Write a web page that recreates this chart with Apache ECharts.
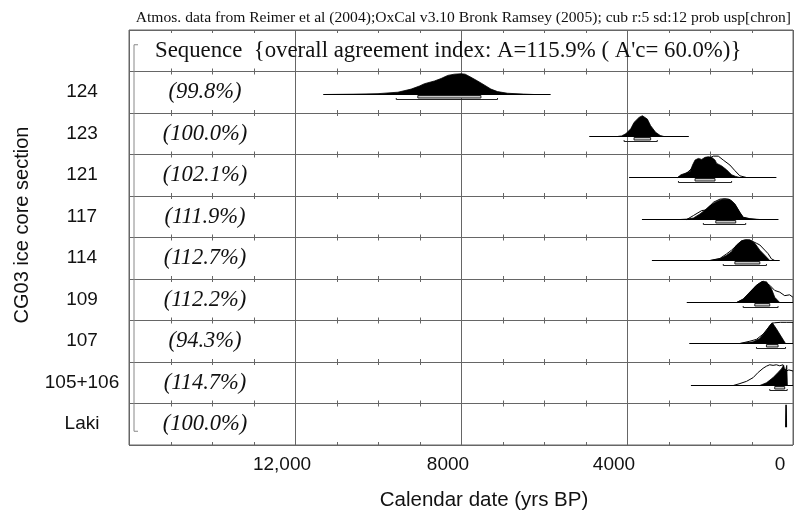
<!DOCTYPE html>
<html><head><meta charset="utf-8">
<script src="https://cdn.jsdelivr.net/npm/echarts@6/dist/echarts.min.js"></script>
<style>html,body{margin:0;padding:0;background:#fff}#c{width:796px;height:516px}</style>
</head><body><div id="c"></div>
<script>
// ---------- data ----------
const subtitle = 'Atmos. data from Reimer et al (2004);OxCal v3.10 Bronk Ramsey (2005); cub r:5 sd:12 prob usp[chron]';
const headerText = "Sequence  {overall agreement index: A=115.9% ( A'c= 60.0%)}";
const rowNames = ['Sequence', '124', '123', '121', '117', '114', '109', '107', '105+106', 'Laki'];
const agreement = ['', '(99.8%)', '(100.0%)', '(102.1%)', '(111.9%)', '(112.7%)', '(112.2%)', '(94.3%)', '(114.7%)', '(100.0%)'];
const xTickValues = [12000, 8000, 4000, 0];
const minorTickYears = [1000, 2000, 3000, 5000, 6000, 7000, 9000, 10000, 11000, 13000, 14000, 15000];

// row 124
const yrs124 = [11300, 10600, 10000, 9520, 9200, 9000, 8880, 8640, 8480, 8320, 8160, 8000, 7900, 7760, 7600, 7440, 7280, 7120, 6880, 6500, 6240];
const post124 = [0, 0.015, 0.04, 0.11, 0.26, 0.41, 0.52, 0.65, 0.77, 0.92, 0.98, 1.0, 0.98, 0.83, 0.65, 0.46, 0.26, 0.14, 0.06, 0.02, 0];
const line124 = [11320, 5840], sig1_124 = [9040, 7520], sig2_124 = [9560, 7120];
// row 123
const yrs123 = [4230, 4130, 4030, 3910, 3830, 3710, 3630, 3510, 3430, 3310, 3200, 3110];
const post123 = [0, 0.03, 0.13, 0.37, 0.68, 0.92, 1.0, 0.84, 0.52, 0.2, 0.05, 0];
const line123 = [4910, 2510], sig1_123 = [3830, 3430], sig2_123 = [4070, 3270];
// row 121
const yrs121 = [2780, 2700, 2600, 2480, 2420, 2360, 2280, 2200, 2120, 2040, 1960, 1880, 1840, 1720, 1600, 1480, 1380, 1280];
const post121 = [0, 0.13, 0.2, 0.29, 0.6, 0.84, 0.92, 0.87, 0.97, 1.0, 0.97, 0.84, 0.68, 0.56, 0.37, 0.13, 0.05, 0];
const pyrs121 = [2780, 2600, 2400, 2200, 2040, 1920, 1800, 1680, 1520, 1400, 1280, 1120];
const prior121 = [0, 0.15, 0.5, 0.8, 0.9, 1.03, 1.03, 0.84, 0.6, 0.33, 0.08, 0];
const line121 = [3950, 400], sig1_121 = [2360, 1880], sig2_121 = [2760, 1480];
// row 117
const yrs117 = [2720, 2560, 2400, 2240, 2120, 2000, 1880, 1800, 1680, 1560, 1480, 1400, 1280, 1200, 1040, 800];
const post117 = [0, 0.02, 0.07, 0.27, 0.46, 0.67, 0.82, 0.9, 0.98, 0.98, 0.9, 0.75, 0.35, 0.11, 0.04, 0];
const pyrs117 = [2560, 2400, 2200, 2080, 1920, 1760, 1640, 1520, 1400, 1280, 1200, 1040, 880];
const prior117 = [0, 0.19, 0.43, 0.46, 0.83, 0.98, 1.0, 0.96, 0.73, 0.33, 0.1, 0.03, 0];
const line117 = [3640, 350], sig1_117 = [1860, 1380], sig2_117 = [2160, 1140];
// row 114
const yrs114 = [2000, 1760, 1600, 1480, 1360, 1240, 1160, 1040, 920, 800, 680, 560];
const post114 = [0, 0.08, 0.25, 0.42, 0.75, 0.95, 1.0, 1.0, 0.83, 0.5, 0.25, 0];
const pyrs114 = [2000, 1760, 1600, 1480, 1360, 1240, 1120, 1000, 880, 800, 680, 600, 520, 440];
const prior114 = [0, 0.1, 0.32, 0.5, 0.72, 0.93, 0.98, 0.95, 0.83, 0.75, 0.5, 0.33, 0.08, 0];
const line114 = [3400, 320], sig1_114 = [1400, 800], sig2_114 = [1680, 640];
// row 109
const yrs109 = [1360, 1200, 1080, 960, 880, 760, 640, 520, 440, 320];
const post109 = [0, 0.17, 0.42, 0.67, 0.83, 1.0, 1.0, 0.67, 0.25, 0];
const pyrs109 = [1360, 1200, 1080, 960, 880, 720, 560, 440, 320, 200, 80, 0];
const prior109 = [0, 0.15, 0.4, 0.65, 0.83, 1.03, 0.83, 0.58, 0.5, 0.33, 0.37, 0.25];
const line109 = [2560, 120], sig1_109 = [920, 560], sig2_109 = [1200, 360];
// row 107
const yrs107 = [1280, 960, 800, 640, 560, 500, 400, 280, 180];
const post107 = [0, 0.08, 0.24, 0.63, 0.87, 1.0, 0.71, 0.32, 0];
const pyrs107 = [1280, 1040, 880, 720, 600, 500, 440, 300, 150, 0];
const prior107 = [0, 0.11, 0.2, 0.45, 0.75, 0.98, 1.0, 1.02, 1.02, 1.02];
const line107 = [2500, 160], sig1_107 = [640, 360], sig2_107 = [880, 180];
// row 105+106
const yrs105 = [800, 640, 480, 360, 280, 224, 200, 170, 150, 136];
const post105 = [0, 0.13, 0.38, 0.63, 0.8, 0.97, 0.72, 0.8, 0.97, 0];
const pyrs105 = [1440, 1300, 1120, 960, 840, 720, 640, 560, 480, 400, 320, 240, 220, 160, 100, 0];
const prior105 = [0, 0.08, 0.2, 0.38, 0.63, 0.83, 0.93, 1.0, 0.97, 1.0, 0.95, 1.0, 0.8, 0.7, 0.75, 0.7];
const line105 = [2460, 130], sig1_105 = [440, 200], sig2_105 = [560, 140];
// Laki
const yrsLaki = [172, 167, 162];
const postLaki = [0, 1.05, 0];

const dists = [
  {row: 1, py: yrs124, pv: post124, line: line124, r1: sig1_124, r2: sig2_124},
  {row: 2, py: yrs123, pv: post123, line: line123, r1: sig1_123, r2: sig2_123},
  {row: 3, py: yrs121, pv: post121, qy: pyrs121, qv: prior121, line: line121, r1: sig1_121, r2: sig2_121},
  {row: 4, py: yrs117, pv: post117, qy: pyrs117, qv: prior117, line: line117, r1: sig1_117, r2: sig2_117},
  {row: 5, py: yrs114, pv: post114, qy: pyrs114, qv: prior114, line: line114, r1: sig1_114, r2: sig2_114},
  {row: 6, py: yrs109, pv: post109, qy: pyrs109, qv: prior109, line: line109, r1: sig1_109, r2: sig2_109},
  {row: 7, py: yrs107, pv: post107, qy: pyrs107, qv: prior107, line: line107, r1: sig1_107, r2: sig2_107},
  {row: 8, py: yrs105, pv: post105, qy: pyrs105, qv: prior105, line: line105, r1: sig1_105, r2: sig2_105},
  {row: 9, py: yrsLaki, pv: postLaki}
];

// ---------- chart ----------
const GRID = '#666';
const chart = echarts.init(document.getElementById('c'), null, {renderer: 'canvas'});

function renderDist(params, api) {
  const d = dists[params.dataIndex];
  const row = api.value(1);
  const bandH = api.size([0, 1])[1];
  const yc = api.coord([0, row])[1];
  const base = Math.round(yc - bandH / 2 + bandH * 0.545) + 0.5;
  const H = bandH * 0.5;
  const X = y => api.coord([y, row])[0];
  const poly = (ys, vs) => {
    const pts = [[X(ys[0]), base]];
    ys.forEach((y, i) => pts.push([X(y), base - vs[i] * H]));
    pts.push([X(ys[ys.length - 1]), base]);
    return pts;
  };
  const ch = [];
  if (d.line) ch.push({type: 'line', shape: {x1: X(d.line[0]), y1: base, x2: X(d.line[1]), y2: base}, style: {stroke: '#000', lineWidth: 1}});
  if (d.qy) ch.push({type: 'polygon', shape: {points: poly(d.qy, d.qv)}, style: {fill: '#fff', stroke: '#000', lineWidth: 1}});
  ch.push({type: 'polygon', shape: {points: poly(d.py, d.pv)}, style: {fill: '#000', stroke: '#000', lineWidth: d.line ? 0.8 : 1.6}});
  if (d.r1) {
    ch.push({type: 'rect', shape: {x: X(d.r1[0]), y: base + 1, width: X(d.r1[1]) - X(d.r1[0]), height: 2.5}, style: {fill: '#c8c8c8', stroke: '#222', lineWidth: 1}});
  }
  if (d.r2) {
    const yy = base + 5;
    ch.push({type: 'polyline', shape: {points: [[X(d.r2[0]), yy - 1.5], [X(d.r2[0]), yy], [X(d.r2[1]), yy], [X(d.r2[1]), yy - 1.5]]}, style: {stroke: '#222', lineWidth: 1, fill: null}});
  }
  return {type: 'group', children: ch};
}

function renderText(params, api) {
  const row = api.value(1);
  const cs = params.coordSys;
  const yc = api.coord([0, row])[1];
  const ch = [];
  if (row === 0) {
    ch.push({type: 'text', x: cs.x + 26, y: yc, style: {text: headerText, fontFamily: 'Liberation Serif', fontSize: 22.8, fill: '#111', align: 'left', verticalAlign: 'middle'}});
    // sequence bracket
    const yBot = api.coord([0, rowNames.length - 1])[1] + 7;
    ch.push({type: 'polyline', shape: {points: [[cs.x + 9, yc - 6], [cs.x + 5, yc - 6], [cs.x + 5, yBot], [cs.x + 9, yBot]]}, style: {stroke: '#888', lineWidth: 1, fill: null}});
  } else {
    ch.push({type: 'text', x: cs.x + 76, y: yc, style: {text: agreement[row], fontFamily: 'Liberation Serif', fontStyle: 'italic', fontSize: 22.5, fill: '#111', align: 'center', verticalAlign: 'middle'}});
  }
  return {type: 'group', children: ch};
}

function renderTicks(params, api) {
  const cs = params.coordSys;
  const x = Math.round(api.coord([api.value(0), 0])[0]) + 0.5;
  const bandH = api.size([0, 1])[1];
  const ch = [];
  for (let b = 0; b <= rowNames.length; b++) {
    const y = cs.y + b * bandH;
    const y1 = b === 0 ? y : y - 3;
    const y2 = b === rowNames.length ? y : y + 3;
    ch.push({type: 'line', shape: {x1: x, y1: y1, x2: x, y2: y2}, style: {stroke: GRID, lineWidth: 1}});
  }
  return {type: 'group', children: ch};
}

chart.setOption({
  animation: false,
  backgroundColor: '#fff',
  title: {text: subtitle, right: 0, top: 5, textStyle: {fontFamily: 'Liberation Serif', fontSize: 15.6, fontWeight: 'normal', color: '#111'}},
  grid: {left: 129, right: 3, top: 30, bottom: 70, show: true, borderColor: GRID, borderWidth: 1},
  xAxis: {
    type: 'value', inverse: true, min: 0, max: 16000, interval: 4000,
    axisLine: {show: false}, axisTick: {show: false},
    splitLine: {show: true, lineStyle: {color: GRID, width: 1}},
    axisLabel: {
      fontFamily: 'Liberation Sans', fontSize: 19, color: '#111', margin: 10, padding: [0, 26, 0, 0],
      formatter: v => xTickValues.indexOf(v) >= 0 ? (v >= 10000 ? v.toLocaleString('en-US') : String(v)) : ''
    },
    name: 'Calendar date (yrs BP)', nameLocation: 'middle', nameGap: 45,
    nameTextStyle: {fontFamily: 'Liberation Sans', fontSize: 20.5, color: '#111', padding: [0, 0, 0, 46]}
  },
  yAxis: {
    type: 'category', inverse: true, data: rowNames, boundaryGap: true,
    axisLine: {show: false}, axisTick: {show: false},
    splitLine: {show: true, interval: 0, lineStyle: {color: GRID, width: 1}},
    axisLabel: {interval: 0, fontFamily: 'Liberation Sans', fontSize: 19, color: '#111', align: 'center', margin: 47,
      formatter: (v, i) => i === 0 ? '' : v},
    name: 'CG03 ice core section', nameLocation: 'middle', nameGap: 97,
    nameTextStyle: {fontFamily: 'Liberation Sans', fontSize: 20, color: '#111', padding: [0, 0, 0, 25]}
  },
  series: [
    {type: 'custom', renderItem: renderTicks, data: minorTickYears.map(y => [y, 0]), encode: {x: 0, y: 1}, silent: true, clip: false, z: 1},
    {type: 'custom', renderItem: renderDist, data: dists.map(d => [d.py[0], d.row]), encode: {x: 0, y: 1}, silent: true, clip: true, z: 3},
    {type: 'custom', renderItem: renderText, data: rowNames.map((n, i) => [0, i]), encode: {x: 0, y: 1}, silent: true, clip: false, z: 4}
  ]
});
</script>
</body></html>
